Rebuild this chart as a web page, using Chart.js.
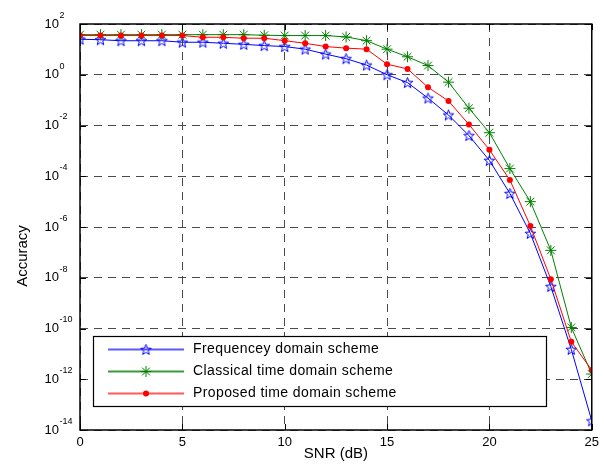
<!DOCTYPE html>
<html>
<head>
<meta charset="utf-8">
<script src="https://cdn.jsdelivr.net/npm/chart.js@4"></script>
<style>
  body { margin: 0; background: #fff; }
  #wrap { width: 604px; height: 468px; }
</style>
</head>
<body>
<div id="wrap"><canvas id="berChart" width="604" height="468"></canvas></div>
<script>
// values
const snr = [0,1,2,3,4,5,6,7,8,9,10,11,12,13,14,15,16,17,18,19,20,21,22,23,24,25];
const freqDomain = [25.1,24,21.9,21.9,21.9,19.1,19.1,17.4,15.8,14.1,12.9,10.2,6.5,4.3,2.4,1.0,0.49,0.12,0.026,4e-3,4.2e-4,2.1e-5,5.6e-7,4.5e-9,1.5e-11,2.3e-14];
const classicalTime = [38,38,38,38,38,38,38,38,38,36,35,35,35,31,22,10.2,5.1,2.3,0.51,0.048,5.2e-3,2.0e-4,1.0e-5,1.2e-7,1.1e-10,1.6e-12];
const proposedTime = [35,35,35,35,35,35,30,30,27.5,27.5,22,17.4,12.9,11.2,10.2,2.6,1.7,0.32,0.093,0.011,1.1e-3,7.1e-5,1.1e-6,8.7e-9,3.0e-11,2.3e-12];
const xTicks = [0,5,10,15,20,25];
const yExps = [2,0,-2,-4,-6,-8,-10,-12,-14];
const seriesNames = ['Frequencey domain scheme','Classical time domain scheme','Proposed time domain scheme'];
const seriesColors = ['#0000ff','#008000','#ff0000'];
const legendLineColors = ['#5a5aff','#3a9a3a','#ff5a5a'];

// pentagram marker like matlab 'p'
function makeStar(color) {
  const c = document.createElement('canvas');
  c.width = 13; c.height = 13;
  const g = c.getContext('2d');
  g.strokeStyle = color;
  g.lineWidth = 1;
  g.beginPath();
  for (let i = 0; i < 10; i++) {
    const r = i % 2 === 0 ? 5.6 : 2.3;
    const a = -Math.PI / 2 + i * Math.PI / 5;
    const px = 6.5 + r * Math.cos(a), py = 7 + r * Math.sin(a);
    if (i === 0) g.moveTo(px, py); else g.lineTo(px, py);
  }
  g.closePath();
  g.stroke();
  return c;
}
const blueStar = makeStar(seriesColors[0]);

const FONT = 'Liberation Sans, Arial, sans-serif';

const decorPlugin = {
  id: 'decor',
  afterDatasetsDraw(chart) {
    const ctx = chart.ctx;
    const a = chart.chartArea;
    const xs = chart.scales.x, ys = chart.scales.y;
    ctx.save();
    ctx.setLineDash([]);
    // inner tick marks
    ctx.strokeStyle = '#000';
    ctx.lineWidth = 1;
    ctx.beginPath();
    xTicks.forEach(v => {
      const px = Math.round(xs.getPixelForValue(v)) + 0.5;
      ctx.moveTo(px, a.bottom); ctx.lineTo(px, a.bottom - 6);
      ctx.moveTo(px, a.top); ctx.lineTo(px, a.top + 6);
    });
    yExps.forEach(e => {
      const py = Math.round(ys.getPixelForValue(Math.pow(10, e))) + 0.5;
      ctx.moveTo(a.left, py); ctx.lineTo(a.left + 6, py);
      ctx.moveTo(a.right, py); ctx.lineTo(a.right - 6, py);
    });
    ctx.stroke();
    // box
    ctx.lineWidth = 1.5;
    ctx.strokeRect(a.left, a.top, a.right - a.left, a.bottom - a.top);

    // y tick labels 10^n
    ctx.fillStyle = '#000';
    ctx.textBaseline = 'middle';
    yExps.forEach(e => {
      const py = ys.getPixelForValue(Math.pow(10, e));
      ctx.font = '13px ' + FONT;
      ctx.textAlign = 'right';
      ctx.fillText('10', a.left - 21, py);
      ctx.font = '9px ' + FONT;
      ctx.textAlign = 'left';
      ctx.fillText(String(e), a.left - 20.5, py - 8.5);
    });
    // y title
    ctx.save();
    ctx.translate(23, 256);
    ctx.rotate(-Math.PI / 2);
    ctx.font = '15px ' + FONT;
    ctx.textAlign = 'center';
    ctx.fillText('Accuracy', 0, 0);
    ctx.restore();
    ctx.restore();
  },
  afterDraw(chart) {
    const ctx = chart.ctx;
    ctx.save();
    ctx.setLineDash([]);
    // legend box
    const lx = 93.5, ly = 336.5, lw = 453, lh = 70;
    ctx.fillStyle = '#fff';
    ctx.fillRect(lx, ly, lw, lh);
    ctx.lineWidth = 1.2;
    ctx.strokeStyle = '#000';
    ctx.strokeRect(lx, ly, lw, lh);
    const rows = [349, 371, 393];
    chart.data.datasets.forEach((ds, i) => {
      const yy = rows[i];
      ctx.fillStyle = legendLineColors[i];
      ctx.fillRect(108, yy - 0.5, 76, 2);
      const cy = yy + 0.5;
      ctx.fillStyle = seriesColors[i];
      ctx.strokeStyle = seriesColors[i];
      if (ds.pointStyle === 'circle') {
        ctx.beginPath(); ctx.arc(146, cy, ds.pointRadius, 0, Math.PI * 2); ctx.fill();
      } else {
        ctx.lineWidth = 1;
        Chart.helpers.drawPoint(ctx, { pointStyle: ds.pointStyle, radius: ds.pointRadius, borderWidth: 1, rotation: 0 }, 146, cy);
      }
      ctx.fillStyle = '#000';
      ctx.font = '14px ' + FONT;
      ctx.letterSpacing = '0.4px';
      ctx.textAlign = 'left';
      ctx.textBaseline = 'middle';
      ctx.fillText(seriesNames[i], 193, cy);
      ctx.letterSpacing = '0px';
    });
    ctx.restore();
  }
};

new Chart(document.getElementById('berChart'), {
  type: 'line',
  data: {
    labels: snr,
    datasets: [
      {
        label: seriesNames[0],
        data: snr.map((x, i) => ({ x: x, y: freqDomain[i] })),
        borderColor: seriesColors[0],
        borderWidth: 1,
        pointStyle: blueStar,
        pointRadius: 6,
        order: 3
      },
      {
        label: seriesNames[1],
        data: snr.map((x, i) => ({ x: x, y: classicalTime[i] })),
        borderColor: seriesColors[1],
        pointBorderColor: seriesColors[1],
        borderWidth: 1,
        pointStyle: 'star',
        pointRadius: 5.5,
        pointBorderWidth: 1,
        order: 2
      },
      {
        label: seriesNames[2],
        data: snr.map((x, i) => ({ x: x, y: proposedTime[i] })),
        borderColor: seriesColors[2],
        pointBackgroundColor: seriesColors[2],
        pointBorderColor: seriesColors[2],
        borderWidth: 1,
        pointStyle: 'circle',
        pointRadius: 3,
        pointBorderWidth: 0,
        order: 1
      }
    ]
  },
  options: {
    responsive: false,
    animation: false,
    layout: { padding: { top: 24, right: 8, left: 0, bottom: 0 } },
    plugins: { legend: { display: false }, tooltip: { enabled: false } },
    elements: { line: { tension: 0 } },
    scales: {
      x: {
        type: 'linear',
        min: 0,
        max: 25,
        afterBuildTicks: s => { s.ticks = xTicks.map(v => ({ value: v })); },
        afterFit: s => { s.height = 38; },
        grid: { color: '#4a4a4a', lineWidth: 1, drawTicks: false },
        border: { display: false, dash: [8, 6] },
        ticks: { color: '#000', font: { family: FONT, size: 13 }, padding: 5, maxRotation: 0 },
        title: { display: true, text: 'SNR (dB)', color: '#000', font: { family: FONT, size: 15 }, padding: { top: 0, bottom: 5 } }
      },
      y: {
        type: 'logarithmic',
        min: 1e-14,
        max: 1e2,
        afterBuildTicks: s => { s.ticks = yExps.map(e => ({ value: Math.pow(10, e) })); },
        afterFit: s => { s.width = 80; },
        grid: { color: '#4a4a4a', lineWidth: 1, drawTicks: false },
        border: { display: false, dash: [8, 6] },
        ticks: { display: false }
      }
    }
  },
  plugins: [decorPlugin]
});
</script>
</body>
</html>
